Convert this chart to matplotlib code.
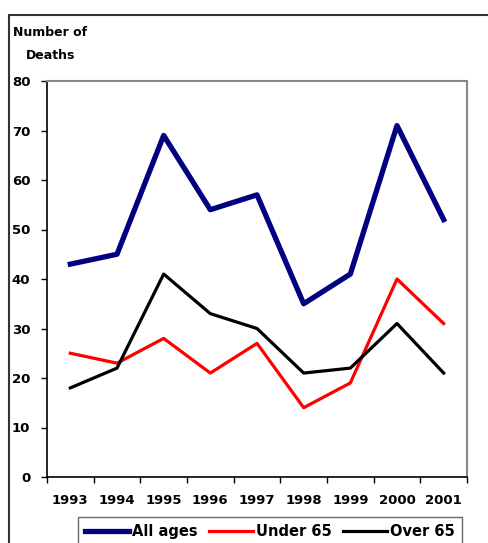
import matplotlib.pyplot as plt
from matplotlib.patches import Rectangle

# data
years = ["1993", "1994", "1995", "1996", "1997", "1998", "1999", "2000", "2001"]
all_ages = [43, 45, 69, 54, 57, 35, 41, 71, 52]
under_65 = [25, 23, 28, 21, 27, 14, 19, 40, 31]
over_65 = [18, 22, 41, 33, 30, 21, 22, 31, 21]

plt.rcParams['font.family'] = ['DejaVu Sans']
plt.rcParams['font.weight'] = 'bold'

fig = plt.figure(figsize=(4.88, 5.43), dpi=100)
W, H = 488, 543

# outer chart frame (cut off at right and bottom in the reference)
fig.patches.append(Rectangle((9 / W, -0.1), 1.2, (543 - 15) / H + 0.1,
                             transform=fig.transFigure, fill=False,
                             edgecolor='#333333', linewidth=1.5))

ax = fig.add_axes([47 / W, (543 - 477) / H, 420 / W, 396 / H])
x = list(range(len(years)))

ax.plot(x, all_ages, color='#000080', linewidth=3.8, label='All ages')
ax.plot(x, under_65, color='#ff0000', linewidth=2.3, label='Under 65')
ax.plot(x, over_65, color='black', linewidth=2.3, label='Over 65')

ax.set_xlim(-0.5, len(years) - 0.5)
ax.set_ylim(0, 80)
ax.set_yticks(range(0, 81, 10))
ax.tick_params(axis='y', direction='out', length=4, width=1, pad=8, labelsize=9.5)

# ticks between categories, labels at category centres
ax.set_xticks([i - 0.5 for i in range(len(years) + 1)])
ax.set_xticklabels([])
ax.tick_params(axis='x', which='major', direction='out', length=4, width=1)
ax.set_xticks(x, minor=True)
ax.set_xticklabels(years, minor=True)
ax.tick_params(axis='x', which='minor', length=0, pad=12, labelsize=9.5)

for s in ['top', 'right']:
    ax.spines[s].set_color('#888888')
    ax.spines[s].set_linewidth(1.5)
for s in ['left', 'bottom']:
    ax.spines[s].set_color('black')
    ax.spines[s].set_linewidth(1.2)

fig.text(13 / W, 1 - 36 / H, "Number of", fontsize=9, fontweight='bold')
fig.text(26 / W, 1 - 59 / H, "Deaths", fontsize=9, fontweight='bold')

leg = fig.legend(loc='upper left', bbox_to_anchor=(78 / W, (543 - 517) / H),
                 ncol=3, fontsize=10.5, frameon=True, fancybox=False,
                 handlelength=3.0, handletextpad=0.2, columnspacing=0.8,
                 borderpad=0.5, borderaxespad=0)
leg.get_frame().set_edgecolor('#444444')
leg.get_frame().set_linewidth(1.0)

fig.savefig('out.png', dpi=100)
